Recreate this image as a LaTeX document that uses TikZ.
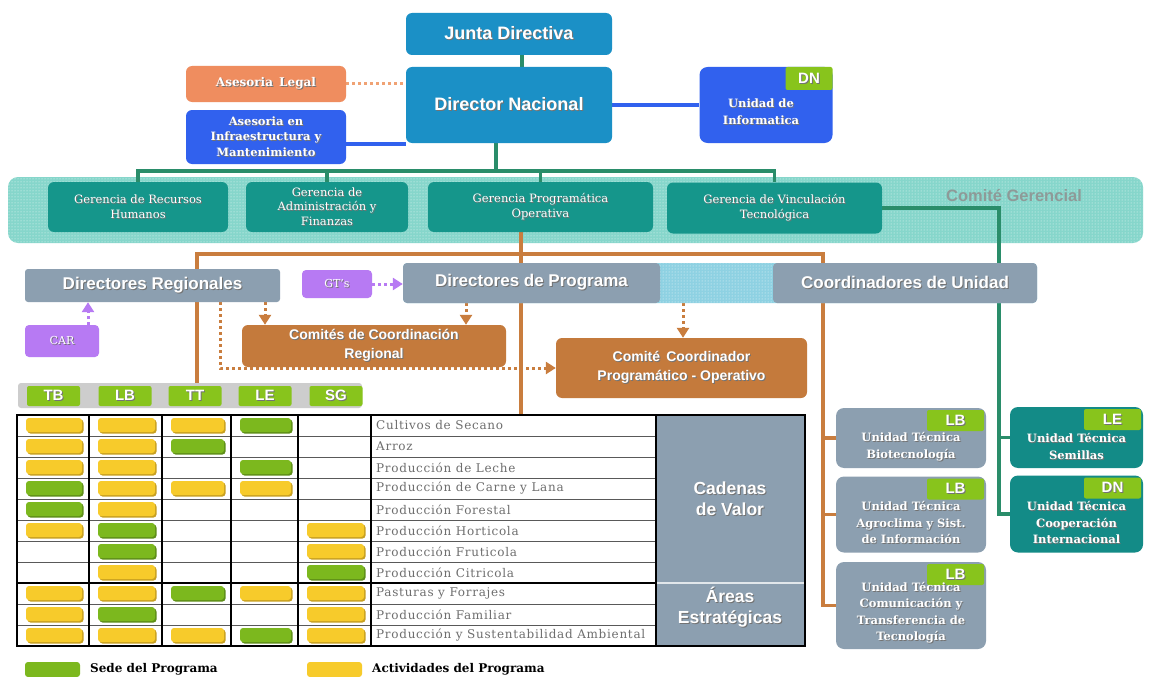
\documentclass[tikz,border=0pt]{standalone}
\usepackage{fontspec}
\setmainfont{DejaVu Serif}
\setsansfont{Liberation Sans}
\usetikzlibrary{arrows.meta,patterns}

\definecolor{cDir}{HTML}{1B90C6}
\definecolor{cLegal}{HTML}{EF8D5F}
\definecolor{cLegalDot}{HTML}{F0A274}
\definecolor{cBlue}{HTML}{3161EE}
\definecolor{cGer}{HTML}{15968B}
\definecolor{cBand}{HTML}{86D6CB}
\definecolor{cGLine}{HTML}{2A8D6A}
\definecolor{cOrLine}{HTML}{C97D3E}
\definecolor{cOrBox}{HTML}{C47A3C}
\definecolor{cGray}{HTML}{8C9FB0}
\definecolor{cPurp}{HTML}{B77AF3}
\definecolor{cTag}{HTML}{88C41C}
\definecolor{cHdr}{HTML}{CDCDCD}
\definecolor{cTeal}{HTML}{138B87}
\definecolor{cPBand}{HTML}{8ED1E2}
\definecolor{cRowTxt}{HTML}{6E6E6E}
\definecolor{cCG}{HTML}{8E9A98}
\definecolor{cs}{HTML}{7CB81E}
\definecolor{csS}{HTML}{5E8E18}
\definecolor{ca}{HTML}{F7CB2B}
\definecolor{caS}{HTML}{C8A020}
\definecolor{no}{HTML}{FFFFFF}
\definecolor{noS}{HTML}{FFFFFF}
\colorlet{shc}{black!55}

% white lettering with a soft drop shadow
\newcommand\sh[1]{\leavevmode\rlap{\textcolor{shc}{\kern1pt\raisebox{-1pt}{#1}}}#1}

\pgfdeclarelayer{back}
\pgfdeclarelayer{lines}
\pgfsetlayers{back,lines,main}

\begin{document}
\begin{tikzpicture}[x=1pt,y=-1pt,
  rbox/.style={rounded corners=6pt, align=center, text=white, inner sep=2pt},
  dirbox/.style={rbox, fill=cDir, font=\sffamily\bfseries\fontsize{18}{21}\selectfont},
  legalbox/.style={rbox, fill=cLegal, font=\bfseries\fontsize{12}{15}\selectfont},
  bluebox/.style={rbox, fill=cBlue, font=\bfseries\fontsize{11.5}{15.5}\selectfont},
  gerbox/.style={rbox, fill=cGer, font=\fontsize{11.5}{14.5}\selectfont},
  graybox/.style={rbox, rounded corners=3pt, fill=cGray, font=\sffamily\bfseries\fontsize{17}{20}\selectfont},
  orbox/.style={rbox, fill=cOrBox, font=\sffamily\bfseries\fontsize{14}{19}\selectfont},
  purbox/.style={rbox, rounded corners=4pt, fill=cPurp, font=\fontsize{11}{13}\selectfont},
  tagbox/.style={fill=cTag, text=white, rounded corners=2pt, inner sep=0pt, font=\sffamily\bfseries\fontsize{15}{15}\selectfont},
  unitbox/.style={rbox, rounded corners=8pt},
  unittxt/.style={align=center, text=white, inner sep=0pt, font=\bfseries\fontsize{11.5}{16.5}\selectfont},
  gline/.style={draw=cGLine, line width=3.5pt},
  oline/.style={draw=cOrLine, line width=3.5pt},
  bline/.style={draw=cBlue, line width=3.5pt},
  ldot/.style={draw=cLegalDot, line width=3pt, dash pattern=on 3pt off 3pt},
  darr/.style={draw=cOrLine, line width=3pt, dash pattern=on 3pt off 3pt, -{Triangle[width=12pt,length=10pt]}},
  parr/.style={darr, draw=cPurp},
  rowtxt/.style={anchor=west, inner sep=0pt, text=cRowTxt, font=\fontsize{12}{13}\selectfont\addfontfeatures{LetterSpace=6}},
  bigtxt/.style={align=center, text=white, inner sep=0pt, font=\sffamily\bfseries\fontsize{17.5}{21}\selectfont},
  legtxt/.style={anchor=west, inner sep=0pt, font=\bfseries\fontsize{12}{14}\selectfont},
]
\useasboundingbox (0,0) rectangle (1149,677);

\begin{pgfonlayer}{back}
  \fill[white] (0,0) rectangle (1149,677);
  % Comité Gerencial band
  \node[rounded corners=10pt, fill=cBand, postaction={pattern=dots, pattern color=white!85!cBand},
        minimum width=1135, minimum height=66] (cg) at (575.5,210) {};
\end{pgfonlayer}
\node[inner sep=0pt, text=cCG, font=\sffamily\bfseries\fontsize{16.5}{18}\selectfont] (cgLabel) at (1014,196) {Comité Gerencial};

% top level
\node[dirbox, minimum width=206, minimum height=42] (jd) at (509,34) {\sh{Junta Directiva}};
\node[dirbox, minimum width=206, minimum height=76] (dn) at (509,105) {\sh{Director Nacional}};
\node[legalbox, minimum width=160, minimum height=36] (legal) at (266,84) {\sh{Asesoria\, Legal}};
\node[bluebox, minimum width=160, minimum height=54] (infra) at (266,137) {\sh{Asesoria en}\\\sh{Infraestructura y}\\\sh{Mantenimiento}};
\node[bluebox, unitbox, minimum width=133, minimum height=76] (info) at (766,105) {};
\node[tagbox, anchor=north east, minimum width=47, minimum height=23] (infoTag) at (info.north east) {\sh{DN}};
\node[unittxt] (infoTxt) at (761,112) {\sh{Unidad de}\\\sh{Informatica}};

% gerencias
\node[gerbox, minimum width=180, minimum height=50] (g1) at (138,207) {\sh{Gerencia de Recursos}\\\sh{Humanos}};
\node[gerbox, minimum width=162, minimum height=50] (g2) at (327,207) {\sh{Gerencia de}\\\sh{Administración y}\\\sh{Finanzas}};
\node[gerbox, minimum width=225, minimum height=50] (g3) at (540.5,207) {\sh{Gerencia Programática}\\\sh{Operativa}};
\node[gerbox, minimum width=215, minimum height=51] (g4) at (774.5,208) {\sh{Gerencia de Vinculación}\\\sh{Tecnológica}};

% regional and programme level
\node[graybox, minimum width=255, minimum height=33] (dr) at (152.5,285.5) {\sh{Directores Regionales}};
\node[purbox, minimum width=74, minimum height=32] (car) at (62,341) {\sh{CAR}};
\node[purbox, minimum width=70, minimum height=28] (gts) at (337,284) {\sh{GT's}};
\node[rounded corners=4pt, fill=cPBand, postaction={pattern=dots, pattern color=white!85!cPBand},
      minimum width=634, minimum height=40] (pband) at (720,283) {};
\node[graybox, rounded corners=4pt, minimum width=257, minimum height=40] (dp) at (531.5,283) {\sh{Directores de Programa}};
\node[graybox, rounded corners=4pt, minimum width=264, minimum height=40] (cu) at (905,283) {\sh{Coordinadores de Unidad}};
\node[orbox, minimum width=264, minimum height=42] (ccr) at (374,346) {\sh{Comités de Coordinación}\\\sh{Regional}};
\node[orbox, minimum width=251, minimum height=60] (ccpo) at (681.5,368) {\sh{Comité\, Coordinador}\\\sh{Programático - Operativo}};

% column heads
\node[fill=cHdr, rounded corners=3pt, minimum width=344, minimum height=25] (hdr) at (190,395.5) {};
\foreach \nm/\cx in {TB/53.5, LB/125, TT/195, LE/265, SG/336}
  \node[tagbox, minimum width=53, minimum height=20] (head\nm) at (\cx,396) {\sh{\nm}};

% technical units
\node[unitbox, fill=cGray, minimum width=150, minimum height=60] (bio) at (911,438) {};
\node[unitbox, fill=cGray, minimum width=150, minimum height=76] (agro) at (911,514.5) {};
\node[unitbox, fill=cGray, minimum width=150, minimum height=87] (comm) at (911,605.5) {};
\node[unitbox, fill=cTeal, minimum width=133, minimum height=61] (semi) at (1076.5,437.5) {};
\node[unitbox, fill=cTeal, minimum width=133, minimum height=77] (coop) at (1076.5,514) {};
\foreach \u/\t in {bio/LB, agro/LB, comm/LB, semi/LE, coop/DN}
  \node[tagbox, anchor=north east, minimum width=57, minimum height=21] (\u Tag) at ([xshift=-2pt,yshift=-2pt]\u.north east) {\sh{\t}};
\node[unittxt] (bioTxt) at (911,447) {\sh{Unidad Técnica}\\\sh{Biotecnología}};
\node[unittxt] (agroTxt) at (911,523) {\sh{Unidad Técnica}\\\sh{Agroclima y Sist.}\\\sh{de Información}};
\node[unittxt] (commTxt) at (911,613) {\sh{Unidad Técnica}\\\sh{Comunicación y}\\\sh{Transferencia de}\\\sh{Tecnología}};
\node[unittxt] (semiTxt) at (1076.5,447) {\sh{Unidad Técnica}\\\sh{Semillas}};
\node[unittxt] (coopTxt) at (1076.5,523) {\sh{Unidad Técnica}\\\sh{Cooperación}\\\sh{Internacional}};

% matrix of programmes
\fill[white] (17,415) rectangle (656,646);
\fill[cGray] (656,415) rectangle (805,646);
\foreach \lab/\ta/\tb/\tc/\td/\te [count=\i] in {
  Cultivos de Secano/ca/ca/ca/cs/no,
  Arroz/ca/ca/cs/no/no,
  Producción de Leche/ca/ca/no/cs/no,
  Producción de Carne y Lana/cs/ca/ca/ca/no,
  Producción Forestal/cs/ca/no/no/no,
  Producción Horticola/ca/cs/no/no/ca,
  Producción Fruticola/no/cs/no/no/ca,
  Producción Citricola/no/ca/no/no/cs,
  Pasturas y Forrajes/ca/ca/cs/ca/ca,
  Producción Familiar/ca/cs/no/no/ca,
  Producción y Sustentabilidad Ambiental/ca/ca/ca/cs/ca}
{
  \pgfmathsetmacro\yt{415+21*(\i-1)}
  \node[rowtxt] (row\i) at (376,\yt+10.5) {\lab};
  \foreach \xl/\xr/\cc in {17/89/\ta, 89/162/\tb, 162/231/\tc, 231/298/\td, 298/371/\te}{
    \edef\mc{\cc}\edef\sc{\cc S}
    \fill[fill=\sc, rounded corners=3pt] (\xl+10.5,\yt+4.5) rectangle (\xr-5.5,\yt+18.5);
    \fill[fill=\mc, rounded corners=3pt] (\xl+9,\yt+3) rectangle (\xr-7,\yt+17);
  }
}
\foreach \r in {1,...,10}
  \draw[black!65, line width=1pt] (17,415+21*\r) -- (656,415+21*\r);
\draw[black, line width=2.5pt] (17,583) -- (656,583);
\draw[white!75!cGray, line width=2pt] (656,583) -- (805,583);
\foreach \xv in {89,162,231,298,371,656}
  \draw[black, line width=2pt] (\xv,415) -- (\xv,646);
\draw[black, line width=2.5pt] (17,415) rectangle (805,646);
\node[bigtxt] (cadenas) at (730,499) {\sh{Cadenas}\\\sh{de Valor}};
\node[bigtxt] (areas) at (730,608) {\sh{Áreas}\\\sh{Estratégicas}};

% legend
\node[fill=cs, rounded corners=3pt, minimum width=55, minimum height=15, inner sep=0pt] (legS) at (52.5,669.5) {};
\node[legtxt] (legSt) at (90,669) {Sede del Programa};
\node[fill=ca, rounded corners=3pt, minimum width=55, minimum height=15, inner sep=0pt] (legA) at (334.5,669.5) {};
\node[legtxt] (legAt) at (372,669) {Actividades del Programa};

% connectors
\begin{pgfonlayer}{lines}
  \coordinate (jdLink) at (522,55);
  \draw[gline] (jdLink) -- (jdLink |- dn.north);
  \coordinate (dnLink) at (496,143);
  \coordinate (gbus) at (496,171);
  \draw[gline] (dnLink) -- (gbus);
  \draw[gline] (g1.north) |- (gbus) -| (g4.north);
  \draw[gline] (g2.north) |- (gbus);
  \draw[gline] (g3.north) |- (gbus);
  \coordinate (lg) at (legal.east);
  \draw[ldot] (lg) -- (lg -| dn.west);
  \coordinate (ib) at ([yshift=-7pt]infra.east);
  \draw[bline] (ib) -- (ib -| dn.west);
  \draw[bline] (dn.east) -- (info.west);
  % right green branch
  \coordinate (gv) at (999,208);
  \draw[gline] (g4.east) -- (gv) |- (coop.west);
  \draw[gline] (semi.west) -- (semi.west -| gv);
  % orange programme structure
  \coordinate (oL) at (197,254);
  \coordinate (oR) at (823,254);
  \coordinate (oM) at (521,232);
  \coordinate (tblTop) at (521,415);
  \draw[oline] (hdr.north -| oL) -- (oL) -- (oR) |- (comm.west);
  \draw[oline] (bio.west) -- (bio.west -| oR);
  \draw[oline] (agro.west) -- (agro.west -| oR);
  \draw[oline] (oM) -- (tblTop);
  % dotted coordination links
  \coordinate (a1) at (265,302);
  \draw[darr] (a1) -- (a1 |- ccr.north);
  \coordinate (a2) at (466,303);
  \draw[darr] (a2) -- (a2 |- ccr.north);
  \coordinate (a3) at (683,303);
  \draw[darr] (a3) -- (a3 |- ccpo.north);
  \coordinate (a4) at (220,302);
  \draw[darr] (a4) |- (ccpo.west);
  \draw[parr] (gts.east) -- (gts.east -| pband.west);
  \coordinate (a5) at (88,325);
  \draw[parr] (a5) -- (a5 |- dr.south);
\end{pgfonlayer}
\end{tikzpicture}
\end{document}
